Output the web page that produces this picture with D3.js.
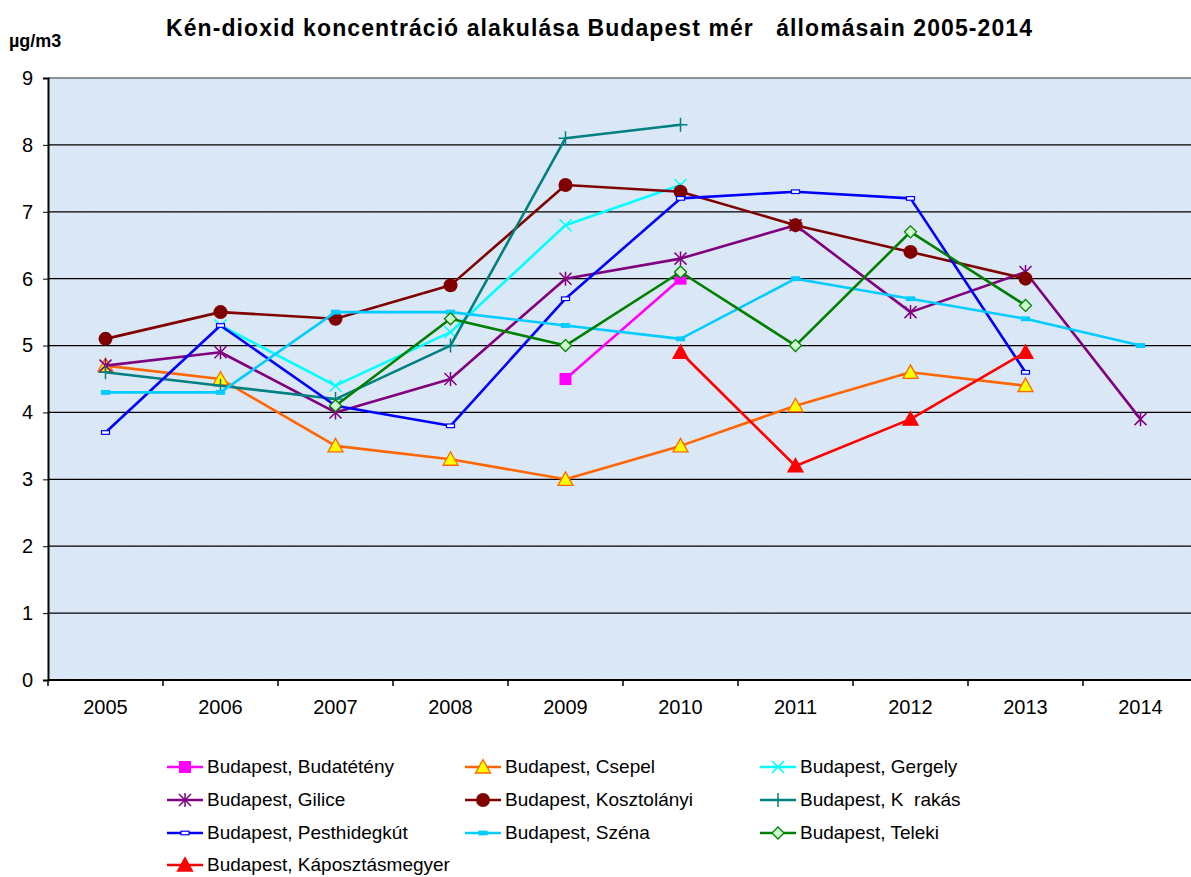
<!DOCTYPE html>
<html>
<head>
<meta charset="utf-8">
<script src="https://cdn.jsdelivr.net/npm/d3@7"></script>
<style>
  body { margin: 0; background: #fff; }
  text { font-family: "Liberation Sans", Arial, sans-serif; white-space: pre; }
</style>
</head>
<body>
<div id="chart"></div>
<script>
// data
var years = ["2005", "2006", "2007", "2008", "2009", "2010", "2011", "2012", "2013", "2014"];
var yTicks = [0, 1, 2, 3, 4, 5, 6, 7, 8, 9];

var budatetenyValues = [null, null, null, null, 4.5, 6.0, null, null, null, null];
var csepelValues = [4.7, 4.5, 3.5, 3.3, 3.0, 3.5, 4.1, 4.6, 4.4, null];
var gergelyValues = [null, 5.3, 4.4, 5.2, 6.8, 7.4, null, null, null, null];
var giliceValues = [4.7, 4.9, 4.0, 4.5, 6.0, 6.3, 6.8, 5.5, 6.1, 3.9];
var kosztolanyiValues = [5.1, 5.5, 5.4, 5.9, 7.4, 7.3, 6.8, 6.4, 6.0, null];
var korakasValues = [4.6, 4.4, 4.2, 5.0, 8.1, 8.3, null, null, null, null];
var pesthidegkutValues = [3.7, 5.3, 4.1, 3.8, 5.7, 7.2, 7.3, 7.2, 4.6, null];
var szenaValues = [4.3, 4.3, 5.5, 5.5, 5.3, 5.1, 6.0, 5.7, 5.4, 5.0];
var telekiValues = [null, null, 4.1, 5.4, 5.0, 6.1, 5.0, 6.7, 5.6, null];
var kaposztasValues = [null, null, null, null, null, 4.9, 3.2, 3.9, 4.9, null];

var seriesNames = [
  "Budapest, Budatétény", "Budapest, Csepel", "Budapest, Gergely",
  "Budapest, Gilice", "Budapest, Kosztolányi", "Budapest, K  rakás",
  "Budapest, Pesthidegkút", "Budapest, Széna", "Budapest, Teleki",
  "Budapest, Káposztásmegyer"
];

var series = [
  { name: seriesNames[0], values: budatetenyValues, color: "#ff00ff", marker: "square", fill: "#ff00ff" },
  { name: seriesNames[1], values: csepelValues, color: "#ff6600", marker: "triangle", fill: "#ffff00" },
  { name: seriesNames[2], values: gergelyValues, color: "#00ffff", marker: "x", fill: "none" },
  { name: seriesNames[3], values: giliceValues, color: "#800080", marker: "star", fill: "none" },
  { name: seriesNames[4], values: kosztolanyiValues, color: "#800000", marker: "circle", fill: "#800000" },
  { name: seriesNames[5], values: korakasValues, color: "#008080", marker: "plus", fill: "none" },
  { name: seriesNames[6], values: pesthidegkutValues, color: "#0000ff", marker: "dash", fill: "#ffffff" },
  { name: seriesNames[7], values: szenaValues, color: "#00ccff", marker: "dash", fill: "#00ccff" },
  { name: seriesNames[8], values: telekiValues, color: "#008000", marker: "diamond", fill: "#ccffcc" },
  { name: seriesNames[9], values: kaposztasValues, color: "#ff0000", marker: "triangle", fill: "#ff0000" }
];

var W = 1191, H = 877;
var svg = d3.select("#chart").append("svg")
  .attr("width", W).attr("height", H);

var plot = { left: 48, right: 1198, top: 78, bottom: 680 };

var x = d3.scaleBand().domain(years).range([plot.left, plot.right]);
var y = d3.scaleLinear().domain([0, 9]).range([plot.bottom, plot.top]);

// background, with a faint paper-like texture
var defs = svg.append("defs");
var f = defs.append("filter").attr("id", "paper")
  .attr("x", 0).attr("y", 0).attr("width", 1).attr("height", 1);
f.append("feTurbulence").attr("type", "fractalNoise").attr("baseFrequency", 0.35)
  .attr("numOctaves", 2).attr("seed", 3).attr("result", "noise");
f.append("feColorMatrix").attr("in", "noise").attr("type", "matrix")
  .attr("values", "0 0 0 0 0.6  0 0 0 0 0.7  0 0 0 0 0.85  0 0 0 0.35 -0.05")
  .attr("result", "tint");
f.append("feComposite").attr("in", "tint").attr("in2", "SourceGraphic").attr("operator", "over");

svg.append("rect")
  .attr("x", plot.left).attr("y", plot.top)
  .attr("width", W - plot.left).attr("height", plot.bottom - plot.top)
  .attr("fill", "#dce9f7")
  .attr("filter", "url(#paper)");

// gridlines
svg.append("g").selectAll("line")
  .data(yTicks.filter(function (d) { return d > 0; }))
  .enter().append("line")
  .attr("x1", plot.left).attr("x2", W)
  .attr("y1", function (d) { return y(d); })
  .attr("y2", function (d) { return y(d); })
  .attr("stroke", function (d) { return d === 9 ? "#707070" : "#000"; })
  .attr("stroke-width", 1.3);

// y axis
var yAxis = d3.axisLeft(y).tickValues(yTicks).tickSize(5).tickPadding(10);
var gy = svg.append("g").attr("transform", "translate(" + plot.left + ",0)").call(yAxis);
gy.select(".domain").attr("stroke", "#000").attr("stroke-width", 2);
gy.selectAll("text").style("font-size", "20px").attr("fill", "#000");

// x axis
var xAxis = d3.axisBottom(x).tickSize(0).tickPadding(20);
var gx = svg.append("g").attr("transform", "translate(0," + plot.bottom + ")").call(xAxis);
gx.select(".domain").remove();
gx.selectAll("text").style("font-size", "20px").attr("fill", "#000");
svg.append("line")
  .attr("x1", plot.left).attr("x2", W)
  .attr("y1", plot.bottom).attr("y2", plot.bottom)
  .attr("stroke", "#000").attr("stroke-width", 2);
svg.append("g").selectAll("line")
  .data(years)
  .enter().append("line")
  .attr("x1", function (d) { return x(d); })
  .attr("x2", function (d) { return x(d); })
  .attr("y1", plot.bottom).attr("y2", plot.bottom + 6)
  .attr("stroke", "#000").attr("stroke-width", 1.5);

// marker drawing
function drawMarker(g, s, cx, cy) {
  var m = s.marker;
  if (m === "square") {
    g.append("rect").attr("x", cx - 6).attr("y", cy - 6).attr("width", 12).attr("height", 12)
      .attr("fill", s.fill);
  } else if (m === "triangle") {
    g.append("path").attr("d", "M" + cx + "," + (cy - 7.5) + "L" + (cx + 7.5) + "," + (cy + 6) + "L" + (cx - 7.5) + "," + (cy + 6) + "Z")
      .attr("fill", s.fill).attr("stroke", s.color).attr("stroke-width", 1.3);
  } else if (m === "x") {
    g.append("path").attr("d", "M" + (cx - 6) + "," + (cy - 6) + "L" + (cx + 6) + "," + (cy + 6) + "M" + (cx + 6) + "," + (cy - 6) + "L" + (cx - 6) + "," + (cy + 6))
      .attr("stroke", s.color).attr("stroke-width", 1.5);
  } else if (m === "star") {
    g.append("path").attr("d", "M" + (cx - 6) + "," + (cy - 6) + "L" + (cx + 6) + "," + (cy + 6) + "M" + (cx + 6) + "," + (cy - 6) + "L" + (cx - 6) + "," + (cy + 6) + "M" + cx + "," + (cy - 7) + "L" + cx + "," + (cy + 7))
      .attr("stroke", s.color).attr("stroke-width", 1.5);
  } else if (m === "circle") {
    g.append("circle").attr("cx", cx).attr("cy", cy).attr("r", 7).attr("fill", s.fill);
  } else if (m === "plus") {
    g.append("path").attr("d", "M" + (cx - 7) + "," + cy + "L" + (cx + 7) + "," + cy + "M" + cx + "," + (cy - 7) + "L" + cx + "," + (cy + 7))
      .attr("stroke", s.color).attr("stroke-width", 1.5);
  } else if (m === "dash") {
    g.append("rect").attr("x", cx - 4).attr("y", cy - 1.8).attr("width", 8).attr("height", 3.6)
      .attr("fill", s.fill).attr("stroke", s.color).attr("stroke-width", 1.2);
  } else if (m === "diamond") {
    g.append("path").attr("d", "M" + cx + "," + (cy - 6) + "L" + (cx + 6) + "," + cy + "L" + cx + "," + (cy + 6) + "L" + (cx - 6) + "," + cy + "Z")
      .attr("fill", s.fill).attr("stroke", s.color).attr("stroke-width", 1.3);
  }
}

var cx = function (i) { return x(years[i]) + x.bandwidth() / 2; };

var line = d3.line()
  .defined(function (d) { return d != null; })
  .x(function (d, i) { return cx(i); })
  .y(function (d) { return y(d); });

var lines = svg.append("g");
series.forEach(function (s) {
  lines.append("path")
    .datum(s.values)
    .attr("d", line)
    .attr("fill", "none")
    .attr("stroke", s.color)
    .attr("stroke-width", 2.6)
    .attr("stroke-linejoin", "round");
  var mg = lines.append("g");
  s.values.forEach(function (v, i) {
    if (v != null) drawMarker(mg, s, cx(i), y(v));
  });
});

// title
svg.append("text")
  .attr("x", 166).attr("y", 36)
  .attr("textLength", 866).attr("lengthAdjust", "spacing")
  .style("font-size", "23px").style("font-weight", "bold")
  .text("Kén-dioxid koncentráció alakulása Budapest mér   állomásain 2005-2014");
svg.append("text")
  .attr("x", 9).attr("y", 47)
  .style("font-size", "18px").style("font-weight", "bold")
  .text("µg/m3");

// legend
var colX = [167, 465, 760];
var rowY = [767, 800, 833, 865];
var legend = svg.append("g");
series.forEach(function (s, i) {
  var lx = colX[i % 3], ly = rowY[Math.floor(i / 3)];
  legend.append("line")
    .attr("x1", lx).attr("x2", lx + 36)
    .attr("y1", ly).attr("y2", ly)
    .attr("stroke", s.color).attr("stroke-width", 2.6);
  drawMarker(legend, s, lx + 18, ly);
  legend.append("text")
    .attr("x", lx + 40).attr("y", ly + 6)
    .style("font-size", "19px")
    .text(s.name);
});
</script>
</body>
</html>
